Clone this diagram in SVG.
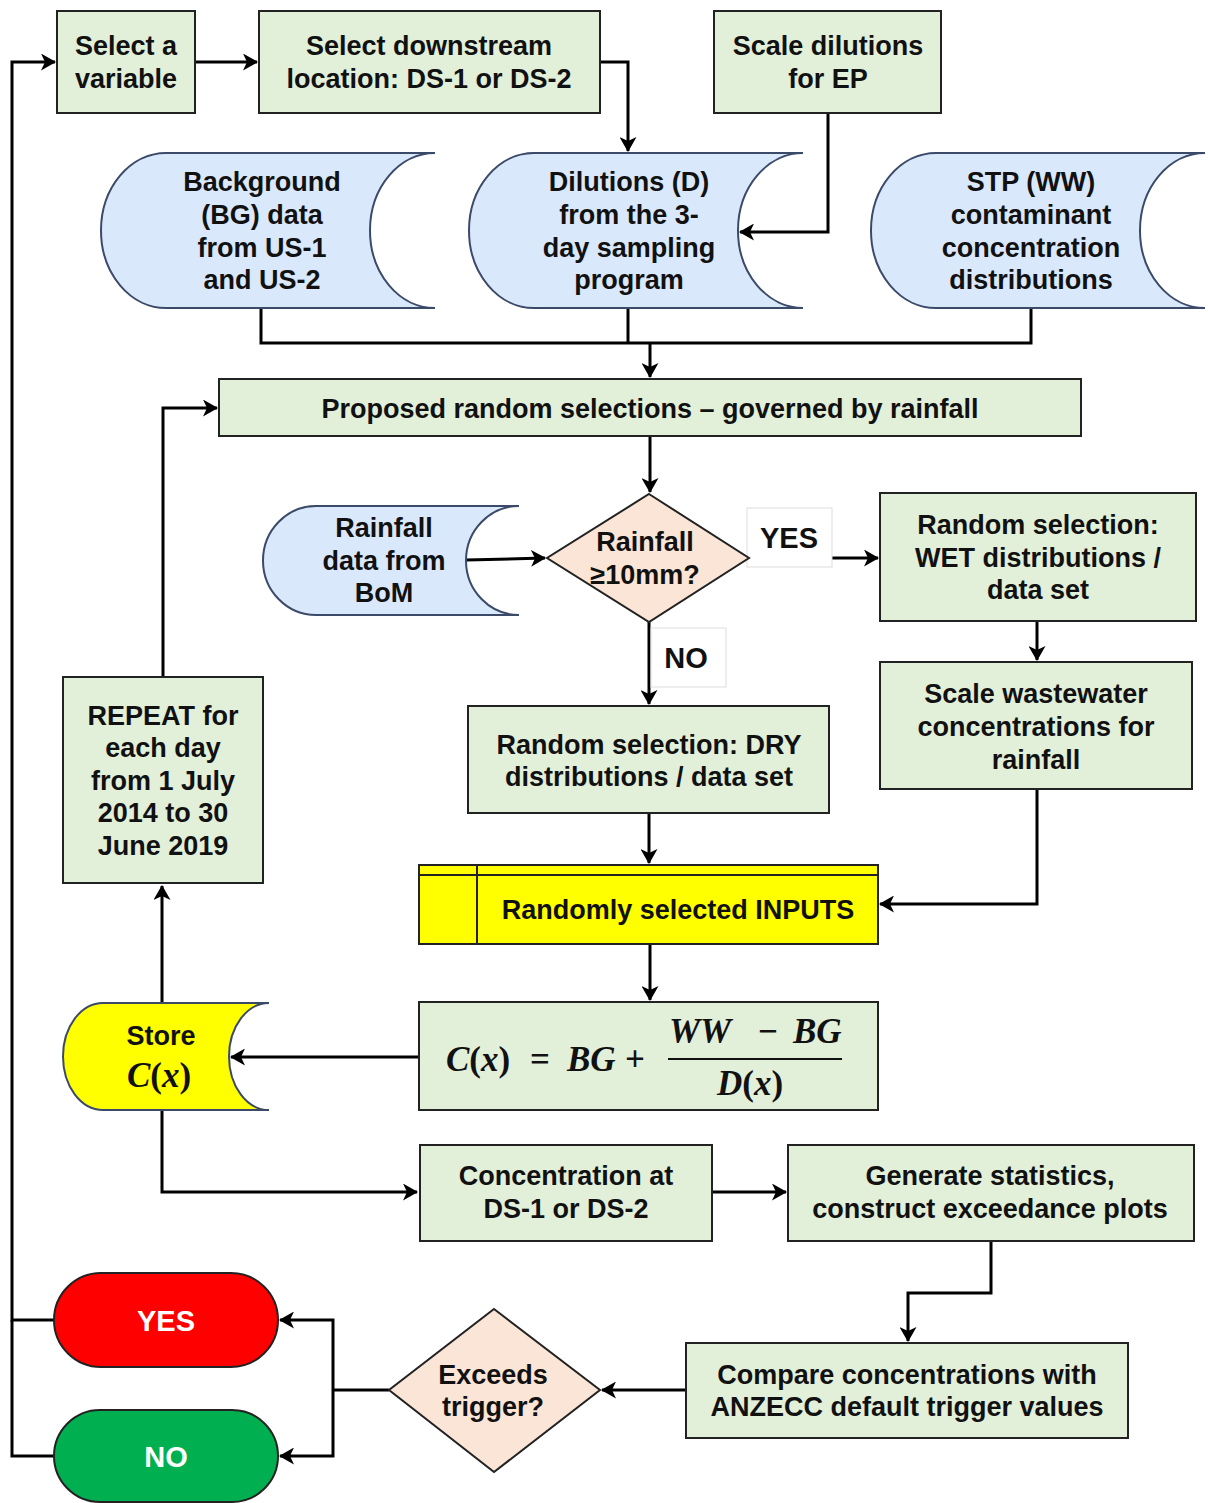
<svg xmlns="http://www.w3.org/2000/svg" width="1208" height="1503" viewBox="0 0 1208 1503">
  <style>
    text { font-family: "Liberation Sans", Arial, sans-serif; font-weight: bold; font-size: 27px; fill: #111; text-anchor: middle; }
    .proc { fill: #e2efd9; stroke: #222; stroke-width: 2; }
    .store { fill: #dae8fc; stroke: #3c4a6a; stroke-width: 2; }
    .ystore { fill: #ffff00; stroke: #3c4a6a; stroke-width: 2; }
    .dec { fill: #fbe5d6; stroke: #222; stroke-width: 2; }
    .lbl { fill: #ffffff; stroke: #dddddd; stroke-width: 1; }
    .conn { fill: none; stroke: #000; stroke-width: 3; }
    .arr { marker-end: url(#ah); }
    .math { font-family: "Liberation Serif", "Times New Roman", serif; font-weight: bold; font-size: 35px; text-anchor: start; }
    .it { font-style: italic; }
    .big { font-size: 29px; }
    .white { fill: #ffffff; }
  </style>
  <defs>
    <marker id="ah" viewBox="0 0 15 17" refX="14" refY="8.5" markerWidth="15" markerHeight="17" orient="auto" markerUnits="userSpaceOnUse">
      <path d="M0,0 L15,8.5 L0,17 L4,8.5 Z" fill="#000"/>
    </marker>
  </defs>
  <rect width="1208" height="1503" fill="#ffffff"/>

  <!-- connectors -->
  <g id="connectors">
    <path class="conn arr" d="M54,1320 H12 V62 H55"/>
    <path class="conn" d="M54,1456 H12 V1320"/>
    <path class="conn arr" d="M195,62 H257"/>
    <path class="conn arr" d="M600,62 H628 V151"/>
    <path class="conn arr" d="M828,113 V232 H740"/>
    <path class="conn" d="M261,308 V343 H1031 V308"/>
    <path class="conn" d="M628,308 V343"/>
    <path class="conn arr" d="M650,343 V377"/>
    <path class="conn arr" d="M650,436 V492"/>
    <path class="conn arr" d="M466,560 L545,558"/>
    <path class="conn arr" d="M749,558 H878"/>
    <path class="conn arr" d="M649,622 V704"/>
    <path class="conn arr" d="M1037,621 V660"/>
    <path class="conn arr" d="M1037,789 V904 H880"/>
    <path class="conn arr" d="M649,813 V863"/>
    <path class="conn arr" d="M650,944 V1000"/>
    <path class="conn arr" d="M419,1057 H231"/>
    <path class="conn arr" d="M162,1110 V1192 H417"/>
    <path class="conn arr" d="M162,1003 V886"/>
    <path class="conn arr" d="M163,677 V408 H217"/>
    <path class="conn arr" d="M712,1192 H786"/>
    <path class="conn arr" d="M991,1241 V1293 H908 V1341"/>
    <path class="conn arr" d="M686,1390 H602"/>
    <path class="conn" d="M389,1390 H333"/>
    <path class="conn arr" d="M333,1390 V1320 H280"/>
    <path class="conn arr" d="M333,1390 V1456 H280"/>
  </g>

  <!-- edge labels -->
  <g id="label-yes">
    <rect class="lbl" x="747" y="508" width="85" height="59"/>
    <text x="789" y="548" class="big">YES</text>
  </g>
  <g id="label-no">
    <rect class="lbl" x="651" y="628" width="75" height="59"/>
    <text x="686" y="668" class="big">NO</text>
  </g>

  <g id="select-variable">
    <rect class="proc" x="57" y="11" width="138" height="102"/>
    <text x="126" y="55">Select a</text>
    <text x="126" y="88">variable</text>
  </g>

  <g id="select-location">
    <rect class="proc" x="259" y="11" width="341" height="102"/>
    <text x="429" y="55">Select downstream</text>
    <text x="429" y="88">location: DS-1 or DS-2</text>
  </g>

  <g id="scale-dilutions">
    <rect class="proc" x="714" y="11" width="227" height="102"/>
    <text x="828" y="55">Scale dilutions</text>
    <text x="828" y="88">for EP</text>
  </g>

  <g id="background-data">
    <path class="store" d="M166,153 H435 A65,77.5 0 0 0 435,308 H166 A65,77.5 0 0 1 166,153 Z"/>
    <text x="262" y="191">Background</text>
    <text x="262" y="224">(BG) data</text>
    <text x="262" y="257">from US-1</text>
    <text x="262" y="289">and US-2</text>
  </g>

  <g id="dilutions-data">
    <path class="store" d="M534,153 H803 A65,77.5 0 0 0 803,308 H534 A65,77.5 0 0 1 534,153 Z"/>
    <text x="629" y="191">Dilutions (D)</text>
    <text x="629" y="224">from the 3-</text>
    <text x="629" y="257">day sampling</text>
    <text x="629" y="289">program</text>
  </g>

  <g id="stp-data">
    <path class="store" d="M936,153 H1205 A65,77.5 0 0 0 1205,308 H936 A65,77.5 0 0 1 936,153 Z"/>
    <text x="1031" y="191">STP (WW)</text>
    <text x="1031" y="224">contaminant</text>
    <text x="1031" y="257">concentration</text>
    <text x="1031" y="289">distributions</text>
  </g>

  <g id="proposed-selections">
    <rect class="proc" x="219" y="379" width="862" height="57"/>
    <text x="650" y="418">Proposed random selections – governed by rainfall</text>
  </g>

  <g id="rainfall-data">
    <path class="store" d="M316,506 H519 A53,54.5 0 0 0 519,615 H316 A53,54.5 0 0 1 316,506 Z"/>
    <text x="384" y="537">Rainfall</text>
    <text x="384" y="570">data from</text>
    <text x="384" y="602">BoM</text>
  </g>

  <g id="rainfall-decision">
    <polygon class="dec" points="649,494 749,558 649,622 547,558"/>
    <text x="645" y="551">Rainfall</text>
    <text x="645" y="584">≥10mm?</text>
  </g>

  <g id="wet-selection">
    <rect class="proc" x="880" y="493" width="316" height="128"/>
    <text x="1038" y="534">Random selection:</text>
    <text x="1038" y="567">WET distributions /</text>
    <text x="1038" y="599">data set</text>
  </g>

  <g id="scale-wastewater">
    <rect class="proc" x="880" y="662" width="312" height="127"/>
    <text x="1036" y="703">Scale wastewater</text>
    <text x="1036" y="736">concentrations for</text>
    <text x="1036" y="769">rainfall</text>
  </g>

  <g id="dry-selection">
    <rect class="proc" x="468" y="706" width="361" height="107"/>
    <text x="649" y="754">Random selection: DRY</text>
    <text x="649" y="786">distributions / data set</text>
  </g>

  <g id="repeat">
    <rect class="proc" x="63" y="677" width="200" height="206"/>
    <text x="163" y="725">REPEAT for</text>
    <text x="163" y="757">each day</text>
    <text x="163" y="790">from 1 July</text>
    <text x="163" y="822">2014 to 30</text>
    <text x="163" y="855">June 2019</text>
  </g>

  <g id="random-inputs">
    <rect x="419" y="865" width="459" height="79" fill="#ffff00" stroke="#222" stroke-width="2"/>
    <line x1="419" y1="875" x2="878" y2="875" stroke="#222" stroke-width="2"/>
    <line x1="477" y1="865" x2="477" y2="944" stroke="#222" stroke-width="2"/>
    <text x="678" y="919">Randomly selected INPUTS</text>
  </g>

  <g id="formula">
    <rect class="proc" x="419" y="1002" width="459" height="108"/>
    <text class="math" x="446" y="1071"><tspan class="it">C</tspan>(<tspan class="it">x</tspan>)</text>
    <text class="math" x="530" y="1071">=</text>
    <text class="math it" x="567" y="1071">BG</text>
    <text class="math" x="625" y="1071">+</text>
    <text class="math it" x="669" y="1043">WW</text>
    <text class="math" x="758" y="1043">−</text>
    <text class="math it" x="793" y="1043">BG</text>
    <line x1="668" y1="1059" x2="842" y2="1059" stroke="#111" stroke-width="2"/>
    <text class="math" x="717" y="1095"><tspan class="it">D</tspan>(<tspan class="it">x</tspan>)</text>
  </g>

  <g id="store-cx">
    <path class="ystore" d="M103,1003 H269 A40,53.5 0 0 0 269,1110 H103 A40,53.5 0 0 1 103,1003 Z"/>
    <text x="161" y="1045" font-size="26">Store</text>
    <text class="math" x="127" y="1087"><tspan class="it">C</tspan>(<tspan class="it">x</tspan>)</text>
  </g>

  <g id="concentration">
    <rect class="proc" x="420" y="1145" width="292" height="96"/>
    <text x="566" y="1185">Concentration at</text>
    <text x="566" y="1218">DS-1 or DS-2</text>
  </g>

  <g id="statistics">
    <rect class="proc" x="788" y="1145" width="406" height="96"/>
    <text x="990" y="1185">Generate statistics,</text>
    <text x="990" y="1218">construct exceedance plots</text>
  </g>

  <g id="compare">
    <rect class="proc" x="686" y="1343" width="442" height="95"/>
    <text x="907" y="1384">Compare concentrations with</text>
    <text x="907" y="1416">ANZECC default trigger values</text>
  </g>

  <g id="exceeds-decision">
    <polygon class="dec" points="494,1309 600,1390 494,1472 389,1390"/>
    <text x="493" y="1384">Exceeds</text>
    <text x="493" y="1416">trigger?</text>
  </g>

  <g id="yes-terminal">
    <rect x="54" y="1273" width="224" height="94" rx="47" ry="47" fill="#ff0000" stroke="#222" stroke-width="2"/>
    <text x="166" y="1331" class="big white">YES</text>
  </g>

  <g id="no-terminal">
    <rect x="54" y="1410" width="224" height="92" rx="46" ry="46" fill="#00b050" stroke="#222" stroke-width="2"/>
    <text x="166" y="1467" class="big white">NO</text>
  </g>
</svg>
